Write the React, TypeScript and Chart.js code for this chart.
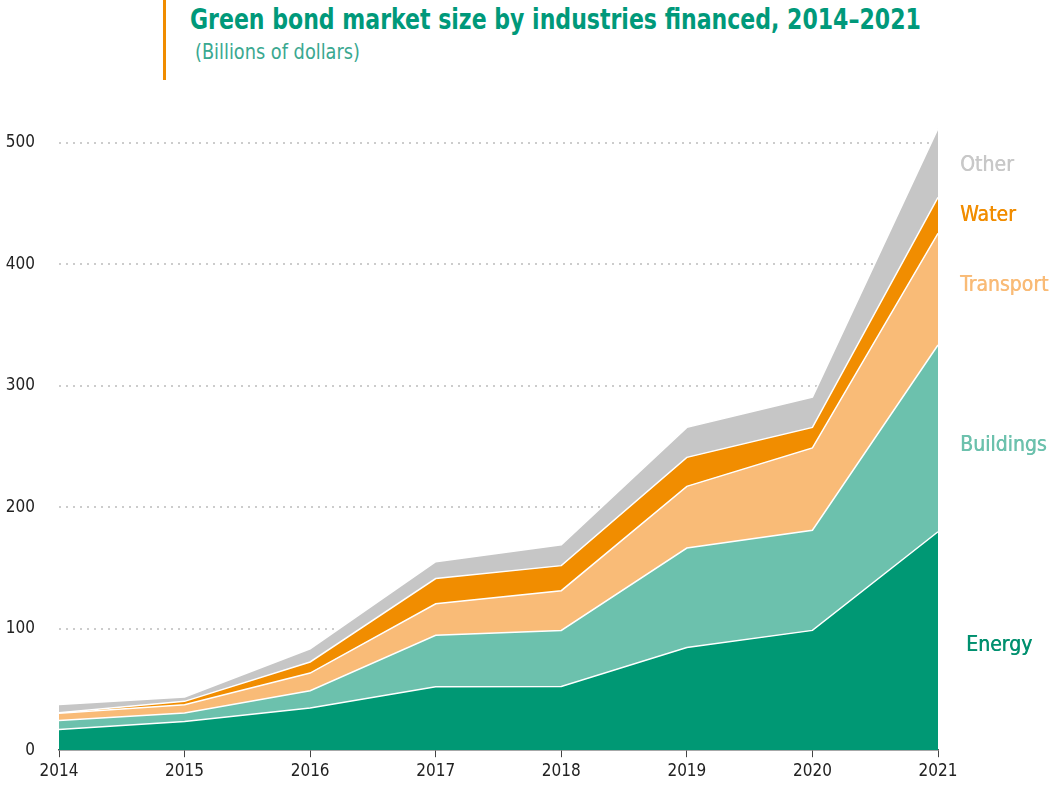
import React, { useEffect, useRef } from "react";
import { Chart, registerables } from "chart.js";

Chart.register(...registerables);

const years = ["2014", "2015", "2016", "2017", "2018", "2019", "2020", "2021"];
const energy = [17, 23.7, 34.7, 52.3, 52.5, 84.6, 98.6, 179.8];
const buildings = [7.5, 6.9, 14.3, 42.3, 46.1, 81.8, 82.4, 153.7];
const transport = [6, 6.8, 14.5, 25.9, 32.7, 50.8, 67.8, 91.9];
const water = [0.3, 2.8, 9.1, 20.8, 20.6, 23.8, 16.9, 29.6];
const other = [6.9, 3.6, 10.9, 13.9, 17.2, 24.7, 25, 56.8];
const yTicks = [0, 100, 200, 300, 400, 500];

const seriesNames = ["Energy", "Buildings", "Transport", "Water", "Other"];
const seriesData = [energy, buildings, transport, water, other];
const fillColors = ["#009874", "#6cc1ad", "#f9bb77", "#f18d00", "#c6c6c6"];
const labelColors = ["#00906f", "#6cc1ad", "#f9bb77", "#f18d00", "#c8c8c8"];
const labelNudge = [5, 7, -4, 0, 3];

const FONT = "'Liberation Sans Narrow', 'DejaVu Sans Condensed', 'Roboto', sans-serif";

const endLabels = {
  id: "endLabels",
  afterDraw(chart: any) {
    const { ctx, chartArea, scales } = chart;
    const last = years.length - 1;
    let base = 0;
    ctx.save();
    ctx.font = `21px ${FONT}`;
    ctx.textBaseline = "middle";
    ctx.textAlign = "left";
    seriesData.forEach((s, i) => {
      const mid = base + s[last] / 2;
      base += s[last];
      const y = scales.y.getPixelForValue(mid) + labelNudge[i];
      ctx.fillStyle = labelColors[i];
      const x = chartArea.right + (i === 0 ? 28 : 22);
      ctx.fillText(seriesNames[i], x, y);
      ctx.fillText(seriesNames[i], x + 0.5, y);
    });
    ctx.restore();
  },
};

export default function App() {
  const ref = useRef<HTMLCanvasElement>(null);
  useEffect(() => {
    const chart = new Chart(ref.current as HTMLCanvasElement, {
      type: "line",
      data: {
        labels: years,
        datasets: seriesData.map((d, i) => ({
          label: seriesNames[i],
          data: d,
          fill: i === 0 ? "origin" : "-1",
          backgroundColor: fillColors[i],
          borderColor: "#ffffff",
          borderWidth: 1.5,
          pointRadius: 0,
          tension: 0,
        })),
      },
      options: {
        animation: false,
        responsive: false,
        devicePixelRatio: 1,
        layout: { padding: { left: 0, top: 118.4, right: 112, bottom: 0 } },
        plugins: { legend: { display: false }, tooltip: { enabled: false }, title: { display: false } },
        scales: {
          x: {
            z: 1,
            offset: false,
            grid: { display: true, drawOnChartArea: false, drawTicks: true, tickLength: 7, color: "#444", lineWidth: 1 },
            border: { display: true, color: "#555", width: 1.5 },
            ticks: { color: "#222", font: { family: FONT, size: 17 }, padding: 4, maxRotation: 0 },
            afterFit: (s: any) => { s.height = 40.8; },
          },
          y: {
            stacked: true,
            min: 0,
            max: 520,
            afterBuildTicks: (axis: any) => {
              axis.ticks = yTicks.map((v) => ({ value: v }));
            },
            afterFit: (s: any) => { s.width = 59; },
            border: { display: false, dash: [2, 5] },
            grid: {
              drawTicks: false,
              color: (c: any) => (c.tick && c.tick.value === 0 ? "rgba(0,0,0,0)" : "#cccccc"),
              lineWidth: 2,
            },
            ticks: { color: "#222", font: { family: FONT, size: 17 }, padding: 24 },
          },
        },
      },
      plugins: [endLabels],
    });
    return () => chart.destroy();
  }, []);

  return (
    <div style={{ position: "absolute", left: 0, top: 0, width: 1050, height: 791, background: "#fff", overflow: "hidden" }}>
      <div style={{ position: "absolute", left: 163, top: 0, width: 3, height: 80, background: "#f08c00" }} />
      <div style={{ position: "absolute", left: 190, top: 3, fontFamily: FONT, fontWeight: "bold", fontSize: 28, color: "#00997a", whiteSpace: "nowrap", lineHeight: "34px", transform: "scaleX(0.875)", transformOrigin: "0 0" }}>
        Green bond market size by industries financed, 2014–2021
      </div>
      <div style={{ position: "absolute", left: 195, top: 39, fontFamily: FONT, fontSize: 21, color: "#3aa890", whiteSpace: "nowrap", lineHeight: "26px", transform: "scaleX(0.94)", transformOrigin: "0 0" }}>
        (Billions of dollars)
      </div>
      <canvas ref={ref} width={1050} height={791} style={{ position: "absolute", left: 0, top: 0 }} />
    </div>
  );
}
